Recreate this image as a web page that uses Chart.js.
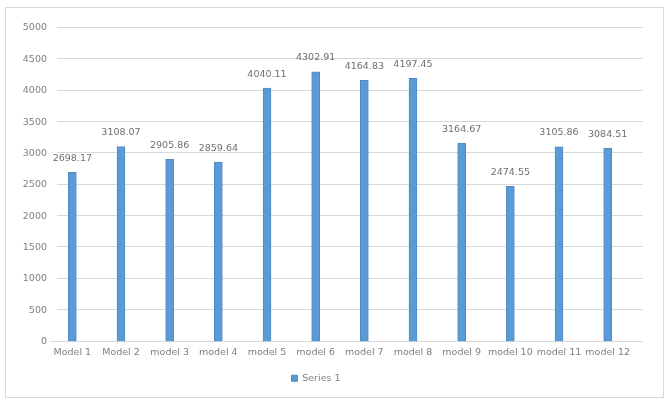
<!DOCTYPE html>
<html>
<head>
<meta charset="utf-8">
<script src="https://cdn.jsdelivr.net/npm/chart.js@4/dist/chart.umd.min.js"></script>
<style>
  html, body { margin: 0; padding: 0; background: #fff; }
  #wrap { width: 667px; height: 401px; }
</style>
</head>
<body>
<div id="wrap"><canvas id="grafico" width="667" height="401"></canvas></div>
<script>
  const modelos = ["Model 1", "Model 2", "model 3", "model 4", "model 5", "model 6",
    "model 7", "model 8", "model 9", "model 10", "model 11", "model 12"];
  const valores = [2698.17, 3108.07, 2905.86, 2859.64, 4040.11, 4302.91,
    4164.83, 4197.45, 3164.67, 2474.55, 3105.86, 3084.51];
  const nomeSerie = "Series 1";

  const corTexto = "#7f7f7f";
  const corGrade = "#d9d9d9";
  const fonte = { family: "DejaVu Sans", size: 9.5 };

  // moldura e linhas de grade (a grade do Excel passa um pouco da área das barras)
  const moldura = {
    id: "moldura",
    beforeDraw(chart) {
      const ctx = chart.ctx;
      ctx.save();
      ctx.fillStyle = "#fff";
      ctx.fillRect(0, 0, chart.width, chart.height);
      ctx.strokeStyle = corGrade;
      ctx.lineWidth = 1;
      ctx.strokeRect(5.5, 7.5, 658, 390);
      ctx.restore();
    },
    beforeDatasetsDraw(chart) {
      const ctx = chart.ctx;
      const y = chart.scales.y;
      const area = chart.chartArea;
      ctx.save();
      ctx.strokeStyle = corGrade;
      ctx.lineWidth = 1;
      y.ticks.forEach(t => {
        const py = Math.round(y.getPixelForValue(t.value)) - 0.5;
        ctx.beginPath();
        ctx.moveTo(t.value === 0 ? area.left + 2 : area.left + 9, py);
        ctx.lineTo(area.right + 11, py);
        ctx.stroke();
      });
      ctx.restore();
    }
  };

  // rótulos de valor acima das barras
  const rotulos = {
    id: "rotulos",
    afterDatasetsDraw(chart) {
      const ctx = chart.ctx;
      const meta = chart.getDatasetMeta(0);
      ctx.save();
      ctx.font = fonte.size + "px " + fonte.family;
      ctx.fillStyle = "#6f6f6f";
      ctx.textAlign = "center";
      ctx.textBaseline = "middle";
      meta.data.forEach((bar, i) => {
        ctx.fillText(valores[i].toFixed(2), bar.x, bar.y - 14);
      });
      ctx.restore();
    }
  };

  new Chart(document.getElementById("grafico"), {
    type: "bar",
    data: {
      labels: modelos,
      datasets: [{
        label: nomeSerie,
        data: valores,
        backgroundColor: "#5b9bd5",
        borderColor: "#4f8cc4",
        borderWidth: 1,
        barThickness: 8
      }]
    },
    options: {
      responsive: false,
      animation: false,
      layout: { padding: { top: 28, right: 35, left: 0, bottom: 8 } },
      scales: {
        x: {
          grid: { display: false },
          border: { display: false },
          ticks: { color: corTexto, font: fonte, maxRotation: 0, autoSkip: false, padding: -3 },
          afterFit(scale) { scale.height = 24; }
        },
        y: {
          min: 0,
          max: 5000,
          ticks: {
            stepSize: 500, color: corTexto, font: fonte, padding: -7,
            callback: v => String(v)
          },
          grid: { display: false },
          border: { display: false },
          afterFit(scale) { scale.width = 48; }
        }
      },
      plugins: {
        legend: {
          position: "bottom",
          labels: { color: corTexto, font: fonte, boxWidth: 6, boxHeight: 6, padding: 8 }
        },
        tooltip: { enabled: false }
      }
    },
    plugins: [moldura, rotulos]
  });
</script>
</body>
</html>
